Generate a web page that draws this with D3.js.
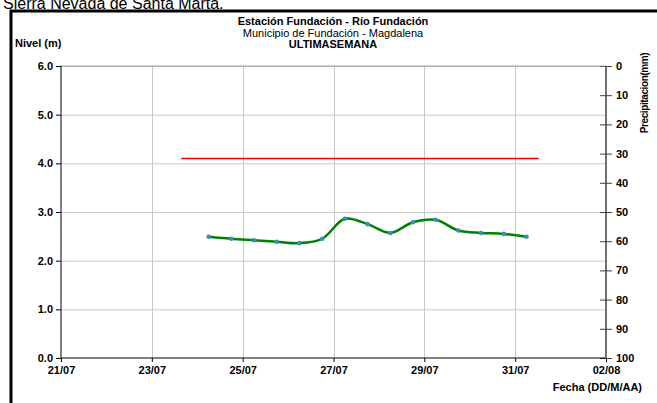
<!DOCTYPE html>
<html>
<head>
<meta charset="utf-8">
<script src="https://cdn.jsdelivr.net/npm/d3@7"></script>
<style>
  body { margin: 0; background: #fff; }
  svg text { font-family: "Liberation Sans", Arial, sans-serif; }
</style>
</head>
<body>
<div id="chart"></div>
<script>
// Readings every 12 h (water level, m)
const times = [
  "2024-07-24T06:00", "2024-07-24T18:00", "2024-07-25T06:00", "2024-07-25T18:00",
  "2024-07-26T06:00", "2024-07-26T18:00", "2024-07-27T06:00", "2024-07-27T18:00",
  "2024-07-28T06:00", "2024-07-28T18:00", "2024-07-29T06:00", "2024-07-29T18:00",
  "2024-07-30T06:00", "2024-07-30T18:00", "2024-07-31T06:00"
];
const levels = [2.49, 2.45, 2.42, 2.39, 2.36, 2.45, 2.86, 2.75, 2.57, 2.79, 2.84, 2.62, 2.57, 2.55, 2.49];

// Alert threshold (red line)
const alertTimes = ["2024-07-23T15:30", "2024-07-31T12:30"];
const alertLevel = 4.1;

const levelTicks = [0, 1, 2, 3, 4, 5, 6];
const rainTicks = [0, 10, 20, 30, 40, 50, 60, 70, 80, 90, 100];
const dateTicks = ["2024-07-21", "2024-07-23", "2024-07-25", "2024-07-27", "2024-07-29", "2024-07-31", "2024-08-02"];

const width = 657, height = 403;
const margin = { left: 61, right: 51, top: 66, bottom: 45 };

const parse = d3.timeParse("%Y-%m-%dT%H:%M");
const parseDay = d3.timeParse("%Y-%m-%d");
const data = times.map((t, i) => ({ t: parse(t), v: levels[i] }));

const svg = d3.select("#chart").append("svg").attr("width", width).attr("height", height);

// outer frame (clipped by window)
svg.append("path")
  .attr("d", `M11,${height + 5} V11 H${width + 5}`)
  .attr("fill", "none").attr("stroke", "#000").attr("stroke-width", 3);

// page heading above the frame, partly cut off at the top edge as in the source
svg.append("text").attr("x", 3).attr("y", 9)
  .attr("font-size", 16).text("Sierra Nevada de Santa Marta.");

const x = d3.scaleTime()
  .domain([parseDay(dateTicks[0]), parseDay(dateTicks[dateTicks.length - 1])])
  .range([margin.left, width - margin.right]);
const y = d3.scaleLinear().domain([0, 6]).range([height - margin.bottom, margin.top]);
const y2 = d3.scaleLinear().domain([0, 100]).range([margin.top, height - margin.bottom]);

// grid
svg.append("g").selectAll("line").data(levelTicks.slice(1)).join("line")
  .attr("x1", x.range()[0]).attr("x2", x.range()[1])
  .attr("y1", d => y(d) + 0.5).attr("y2", d => y(d) + 0.5)
  .attr("stroke", "#c8c8c8");
svg.append("g").selectAll("line").data(dateTicks.slice(1, -1)).join("line")
  .attr("x1", d => Math.round(x(parseDay(d))) + 0.5).attr("x2", d => Math.round(x(parseDay(d))) + 0.5)
  .attr("y1", y.range()[1]).attr("y2", y.range()[0])
  .attr("stroke", "#c8c8c8");

// axes
const xAxis = svg.append("g").attr("transform", `translate(0,${y(0)})`)
  .call(d3.axisBottom(x).tickValues(dateTicks.map(parseDay)).tickFormat(d3.timeFormat("%d/%m")).tickSize(4).tickPadding(4));
const yAxis = svg.append("g").attr("transform", `translate(${margin.left},0)`)
  .call(d3.axisLeft(y).tickValues(levelTicks).tickFormat(d3.format(".1f")).tickSize(5).tickPadding(3));
const y2Axis = svg.append("g").attr("transform", `translate(${width - margin.right},0)`)
  .call(d3.axisRight(y2).tickValues(rainTicks).tickSize(6).tickPadding(4));

[xAxis, yAxis, y2Axis].forEach(a => {
  a.select(".domain").remove();
  a.selectAll("text").attr("font-size", 11).attr("font-weight", "bold").attr("fill", "#000")
    .attr("font-family", "Liberation Sans, Arial, sans-serif");
  a.selectAll("line").attr("stroke", "#000");
});
y2Axis.selectAll(".tick line").attr("x1", -6).attr("stroke", "#404040");
y2Axis.selectAll("text").attr("x", 10);
xAxis.selectAll(".tick line").attr("y1", 0);

svg.append("line").attr("x1", margin.left).attr("x2", width - margin.right)
  .attr("y1", y(6)).attr("y2", y(6)).attr("stroke", "#a0a0a0");
svg.append("line").attr("x1", margin.left).attr("x2", width - margin.right)
  .attr("y1", y(0)).attr("y2", y(0)).attr("stroke", "#000");
svg.append("line").attr("x1", margin.left).attr("x2", margin.left)
  .attr("y1", y(0)).attr("y2", y(6)).attr("stroke", "#000");
svg.append("line").attr("x1", width - margin.right).attr("x2", width - margin.right)
  .attr("y1", y(0)).attr("y2", y(6)).attr("stroke", "#404040").attr("stroke-width", 1.5);

// alert line
svg.append("line")
  .attr("x1", x(parse(alertTimes[0]))).attr("x2", x(parse(alertTimes[1])))
  .attr("y1", y(alertLevel)).attr("y2", y(alertLevel))
  .attr("stroke", "#ff0000").attr("stroke-width", 1.5);

// level series
const line = d3.line().x(d => x(d.t)).y(d => y(d.v)).curve(d3.curveCatmullRom.alpha(0.5));
svg.append("path").datum(data).attr("d", line)
  .attr("fill", "none").attr("stroke", "#008000").attr("stroke-width", 2.5);
svg.append("g").selectAll("circle").data(data).join("circle")
  .attr("cx", d => x(d.t)).attr("cy", d => y(d.v)).attr("r", 2.3)
  .attr("fill", "#3a8fb0");

// titles
const titles = svg.append("g").attr("text-anchor", "middle").attr("font-size", 11);
titles.append("text").attr("x", 333).attr("y", 25).attr("font-weight", "bold").text("Estación Fundación - Río Fundación");
titles.append("text").attr("x", 333).attr("y", 37).text("Municipio de Fundación - Magdalena");
titles.append("text").attr("x", 333).attr("y", 48).attr("font-weight", "bold").text("ULTIMASEMANA");

svg.append("text").attr("x", 15).attr("y", 47).attr("font-size", 11).attr("font-weight", "bold").text("Nivel (m)");
svg.append("text").attr("x", 642).attr("y", 391).attr("text-anchor", "end")
  .attr("font-size", 11).attr("font-weight", "bold").text("Fecha (DD/M/AA)");
svg.append("text").attr("transform", "translate(648,93) rotate(-90)").attr("text-anchor", "middle")
  .attr("font-size", 10).attr("font-weight", "bold").attr("letter-spacing", -0.4).text("Precipitacion(mm)");
</script>
</body>
</html>
